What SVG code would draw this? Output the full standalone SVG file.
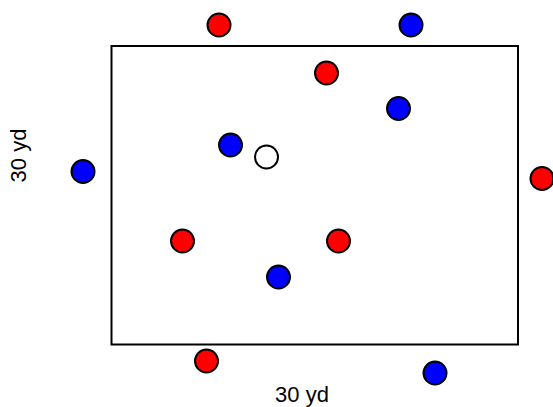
<svg xmlns="http://www.w3.org/2000/svg" width="553" height="407" viewBox="0 0 553 407">
<style>
.p{stroke:#000;stroke-width:2}
.r{fill:#ff0000}
.b{fill:#0000ff}
.w{fill:#ffffff}
.t{font-family:"Liberation Sans",Arial,sans-serif;font-size:22px;fill:#000}
</style>
<rect x="0" y="0" width="553" height="407" fill="#fff"/>
<g id="field"><rect x="111.5" y="46" width="406.5" height="298.5" fill="none" stroke="#000" stroke-width="2"/></g>
<g id="connectors"></g>
<g id="r1"><circle class="p r" cx="219" cy="25" r="11.5"/></g>
<g id="b1"><circle class="p b" cx="411" cy="25" r="11.5"/></g>
<g id="r2"><circle class="p r" cx="326.5" cy="73" r="11.5"/></g>
<g id="b2"><circle class="p b" cx="398.5" cy="108.5" r="11.5"/></g>
<g id="b3"><circle class="p b" cx="83" cy="171.5" r="11.5"/></g>
<g id="b4"><circle class="p b" cx="230.5" cy="145" r="11.5"/></g>
<g id="ball"><circle class="p w" cx="266.5" cy="157" r="11.5"/></g>
<g id="r3"><circle class="p r" cx="542" cy="178.5" r="11.5"/></g>
<g id="r4"><circle class="p r" cx="182.5" cy="241" r="11.5"/></g>
<g id="r5"><circle class="p r" cx="338.5" cy="241" r="11.5"/></g>
<g id="b5"><circle class="p b" cx="278.5" cy="277" r="11.5"/></g>
<g id="r6"><circle class="p r" cx="206.5" cy="361" r="11.5"/></g>
<g id="b6"><circle class="p b" cx="435" cy="373" r="11.5"/></g>
<g id="label-bottom"><text class="t" x="302" y="402" text-anchor="middle">30 yd</text></g>
<g id="label-left"><text class="t" transform="translate(26,155.5) rotate(-90)" text-anchor="middle">30 yd</text></g>
</svg>
